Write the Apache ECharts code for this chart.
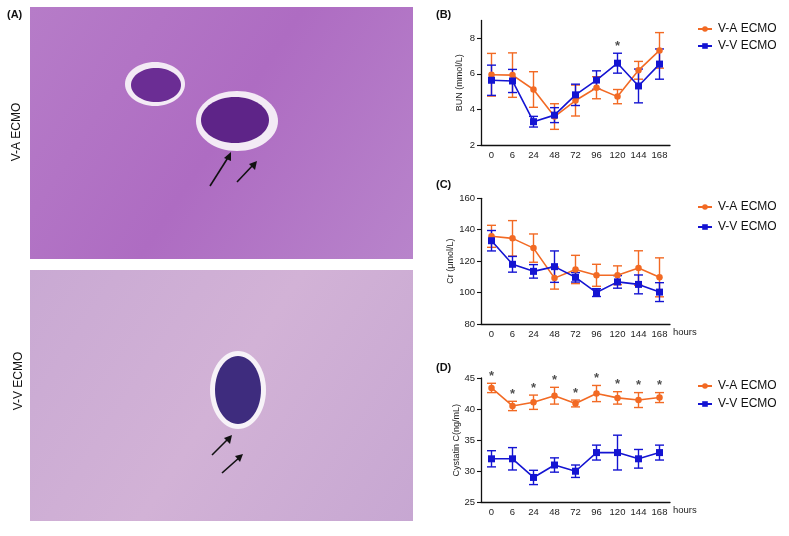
<!DOCTYPE html>
<html>
<head>
<meta charset="utf-8">
<script src="https://cdn.jsdelivr.net/npm/echarts@6/dist/echarts.min.js"></script>
<style>
html,body{margin:0;padding:0;background:#fff;}
#chart{width:789px;height:536px;}
</style>
</head>
<body>
<div id="chart"></div>
<script>
// ---------- data ----------
const categories = ['0', '6', '24', '48', '72', '96', '120', '144', '168'];

const bunVA   = [5.95, 5.93, 5.12, 3.60, 4.50, 5.22, 4.72, 6.20, 7.32];
const bunVAsd = [1.20, 1.25, 1.00, 0.72, 0.87, 0.62, 0.40, 0.50, 1.00];
const bunVV   = [5.64, 5.60, 3.31, 3.68, 4.82, 5.65, 6.60, 5.32, 6.55];
const bunVVsd = [0.85, 0.65, 0.30, 0.42, 0.60, 0.52, 0.56, 0.95, 0.85];

const crVA    = [135.8, 134.5, 128.3, 109.2, 114.7, 111.0, 111.0, 115.6, 109.7];
const crVAsd  = [7.0, 11.3, 9.0, 7.0, 9.0, 7.0, 6.0, 11.0, 12.4];
const crVV    = [133.0, 118.0, 113.5, 116.5, 109.7, 100.0, 106.8, 105.2, 100.3];
const crVVsd  = [6.5, 5.0, 4.3, 10.0, 3.0, 2.5, 4.0, 6.0, 6.0];

const cysVA   = [43.4, 40.5, 41.1, 42.15, 40.9, 42.5, 41.8, 41.45, 41.85];
const cysVAsd = [0.75, 0.75, 1.15, 1.35, 0.55, 1.3, 1.0, 1.2, 0.8];
const cysVV   = [32, 32, 29, 31, 30, 33, 33, 32, 33];
const cysVVsd = [1.3, 1.8, 1.15, 1.15, 1.0, 1.2, 2.8, 1.5, 1.2];

const sigBUN = ['120'];                 // marked on V-V
const sigCys = ['0', '6', '24', '48', '72', '96', '120', '144', '168']; // marked on V-A

const seriesNames = ['V-A ECMO', 'V-V ECMO'];
const yTicksB = [2, 4, 6, 8];

// ---------- style ----------
const ORANGE = '#F26A24';
const BLUE = '#1414D2';
const FONT = 'Liberation Sans, Arial, sans-serif';

const chart = echarts.init(document.getElementById('chart'), null, {renderer: 'canvas'});

function errData(mean, sd) {
  return mean.map((m, i) => [i, m - sd[i], m + sd[i]]);
}
function errSeries(idx, mean, sd, color, z) {
  return {
    type: 'custom', name: 'err', xAxisIndex: idx, yAxisIndex: idx, z: z,
    silent: true,
    data: errData(mean, sd),
    renderItem: function (params, api) {
      const x = api.value(0);
      const lo = api.coord([x, api.value(1)]);
      const hi = api.coord([x, api.value(2)]);
      const hw = 4.5;
      const st = {stroke: color, lineWidth: 1.4};
      return {
        type: 'group',
        children: [
          {type: 'line', shape: {x1: lo[0], y1: lo[1], x2: hi[0], y2: hi[1]}, style: st},
          {type: 'line', shape: {x1: hi[0] - hw, y1: hi[1], x2: hi[0] + hw, y2: hi[1]}, style: st},
          {type: 'line', shape: {x1: lo[0] - hw, y1: lo[1], x2: lo[0] + hw, y2: lo[1]}, style: st}
        ]
      };
    }
  };
}
function lineSeries(idx, name, data, color, symbol, size, z) {
  return {
    type: 'line', name: name, xAxisIndex: idx, yAxisIndex: idx, z: z,
    data: data, symbol: symbol, symbolSize: size,
    lineStyle: {color: color, width: 1.6},
    itemStyle: {color: color},
    emphasis: {disabled: true}
  };
}
function starSeries(idx, sigList, mean, sd) {
  const data = sigList.map(c => {
    const i = categories.indexOf(c);
    return [i, mean[i] + sd[i]];
  });
  return {
    type: 'scatter', xAxisIndex: idx, yAxisIndex: idx, silent: true, z: 6,
    data: data, symbolSize: 1, itemStyle: {color: 'rgba(0,0,0,0)'},
    label: {show: true, position: 'top', distance: 0, formatter: '*',
            fontSize: 13, fontWeight: 'bold', fontFamily: FONT, color: '#222'}
  };
}

const gridLeft = 481, gridWidth = 189;
const grids = [
  {left: gridLeft, top: 20.5, width: gridWidth, height: 124.5},
  {left: gridLeft, top: 198.3, width: gridWidth, height: 125.7},
  {left: gridLeft, top: 378, width: gridWidth, height: 124.3}
];

function xAxis(idx, withName) {
  return {
    type: 'category', gridIndex: idx, data: categories, boundaryGap: true,
    axisLine: {lineStyle: {color: '#111', width: 1.3}},
    axisTick: {alignWithLabel: true, length: 4, lineStyle: {color: '#111', width: 1.1}},
    axisLabel: {color: '#222', fontSize: 9.5, fontFamily: FONT, margin: 5},
    name: withName ? 'hours' : '', nameLocation: 'end', nameGap: 3,
    nameTextStyle: {color: '#222', fontSize: 9.5, fontFamily: FONT,
                    verticalAlign: 'top', padding: [3, 0, 0, 0]}
  };
}
function yAxis(idx, min, max, interval, name, gap, custom) {
  const ax = {
    type: 'value', gridIndex: idx, min: min, max: max, interval: interval,
    splitLine: {show: false},
    axisLine: {show: true, lineStyle: {color: '#111', width: 1.3}},
    axisTick: {show: true, length: 4, lineStyle: {color: '#111', width: 1.1}},
    axisLabel: {color: '#222', fontSize: 9.5, fontFamily: FONT, margin: 6},
    name: name, nameLocation: 'middle', nameGap: gap,
    nameTextStyle: {color: '#222', fontSize: 9, fontFamily: FONT}
  };
  if (custom) {
    ax.axisLabel.customValues = custom;
    ax.axisTick.customValues = custom;
  }
  return ax;
}
function legend(top, gap) {
  return {
    data: seriesNames, orient: 'vertical', left: 697, top: top, itemGap: gap,
    itemWidth: 14, itemHeight: 7, selectedMode: false, padding: 0,
    textStyle: {fontSize: 12, fontFamily: FONT, color: '#111', padding: [0, 0, 0, 1]}
  };
}

const option = {
  animation: false,
  backgroundColor: '#fff',
  grid: grids,
  xAxis: [xAxis(0, false), xAxis(1, true), xAxis(2, true)],
  yAxis: [
    yAxis(0, 2, 9, 2, 'BUN (mmol/L)', 17, yTicksB),
    yAxis(1, 80, 160, 20, 'Cr (μmol/L)', 23),
    yAxis(2, 25, 45, 5, 'Cystatin C(ng/mL)', 19)
  ],
  legend: [legend(23, 5), legend(201, 8), legend(380, 6)],
  graphic: [
    // panel A: histology images (approximation)
    {type: 'rect', shape: {x: 30, y: 7, width: 383, height: 252},
     style: {fill: {type: 'linear', x: 0, y: 0, x2: 1, y2: 1, colorStops: [
       {offset: 0, color: '#B67CC8'}, {offset: 0.5, color: '#AE6CC2'}, {offset: 1, color: '#B884CB'}]}}},
    {type: 'rect', shape: {x: 30, y: 270, width: 383, height: 251},
     style: {fill: {type: 'linear', x: 0, y: 0, x2: 1, y2: 1, colorStops: [
       {offset: 0, color: '#C9A9D3'}, {offset: 0.5, color: '#D2B2D6'}, {offset: 1, color: '#C7A7D2'}]}}},
    // glomeruli
    {type: 'ellipse', shape: {cx: 155, cy: 84, rx: 30, ry: 22}, style: {fill: '#F3EAF5'}},
    {type: 'ellipse', shape: {cx: 156, cy: 85, rx: 25, ry: 17}, style: {fill: '#6B2D94'}},
    {type: 'ellipse', shape: {cx: 237, cy: 121, rx: 41, ry: 30}, style: {fill: '#F3EAF5'}},
    {type: 'ellipse', shape: {cx: 235, cy: 120, rx: 34, ry: 23}, style: {fill: '#5E2488'}},
    {type: 'ellipse', shape: {cx: 238, cy: 390, rx: 28, ry: 39}, style: {fill: '#F7F2F8'}},
    {type: 'ellipse', shape: {cx: 238, cy: 390, rx: 23, ry: 34}, style: {fill: '#3E2C7E'}},
    // arrows
    {type: 'line', shape: {x1: 210, y1: 186, x2: 229, y2: 156}, style: {stroke: '#111', lineWidth: 1.6}},
    {type: 'polygon', shape: {points: [[231, 152], [224, 158], [231, 161]]}, style: {fill: '#111'}},
    {type: 'line', shape: {x1: 237, y1: 182, x2: 254, y2: 164}, style: {stroke: '#111', lineWidth: 1.6}},
    {type: 'polygon', shape: {points: [[257, 161], [249, 164], [255, 170]]}, style: {fill: '#111'}},
    {type: 'line', shape: {x1: 212, y1: 455, x2: 229, y2: 438}, style: {stroke: '#111', lineWidth: 1.6}},
    {type: 'polygon', shape: {points: [[232, 435], [224, 438], [230, 444]]}, style: {fill: '#111'}},
    {type: 'line', shape: {x1: 222, y1: 473, x2: 240, y2: 457}, style: {stroke: '#111', lineWidth: 1.6}},
    {type: 'polygon', shape: {points: [[243, 454], [235, 456], [240, 462]]}, style: {fill: '#111'}},
    // labels
    {type: 'text', x: 7, y: 15, style: {text: '(A)', font: 'bold 11px ' + FONT, fill: '#111', verticalAlign: 'middle'}},
    {type: 'text', x: 17, y: 132, rotation: Math.PI / 2,
     style: {text: 'V-A ECMO', font: '12px ' + FONT, fill: '#111', align: 'center', verticalAlign: 'middle'}},
    {type: 'text', x: 19, y: 381, rotation: Math.PI / 2,
     style: {text: 'V-V ECMO', font: '12px ' + FONT, fill: '#111', align: 'center', verticalAlign: 'middle'}},
    {type: 'text', x: 436, y: 15, style: {text: '(B)', font: 'bold 11px ' + FONT, fill: '#111', verticalAlign: 'middle'}},
    {type: 'text', x: 436, y: 185, style: {text: '(C)', font: 'bold 11px ' + FONT, fill: '#111', verticalAlign: 'middle'}},
    {type: 'text', x: 436, y: 368, style: {text: '(D)', font: 'bold 11px ' + FONT, fill: '#111', verticalAlign: 'middle'}}
  ],
  series: [
    lineSeries(0, 'V-A ECMO', bunVA, ORANGE, 'circle', 6.5, 3),
    lineSeries(0, 'V-V ECMO', bunVV, BLUE, 'rect', 7, 4),
    errSeries(0, bunVA, bunVAsd, ORANGE, 2),
    errSeries(0, bunVV, bunVVsd, BLUE, 2),
    starSeries(0, sigBUN, bunVV, bunVVsd),

    lineSeries(1, 'V-A ECMO', crVA, ORANGE, 'circle', 6.5, 3),
    lineSeries(1, 'V-V ECMO', crVV, BLUE, 'rect', 7, 4),
    errSeries(1, crVA, crVAsd, ORANGE, 2),
    errSeries(1, crVV, crVVsd, BLUE, 2),

    lineSeries(2, 'V-A ECMO', cysVA, ORANGE, 'circle', 6.5, 3),
    lineSeries(2, 'V-V ECMO', cysVV, BLUE, 'rect', 7, 4),
    errSeries(2, cysVA, cysVAsd, ORANGE, 2),
    errSeries(2, cysVV, cysVVsd, BLUE, 2),
    starSeries(2, sigCys, cysVA, cysVAsd)
  ]
};
chart.setOption(option);
</script>
</body>
</html>
